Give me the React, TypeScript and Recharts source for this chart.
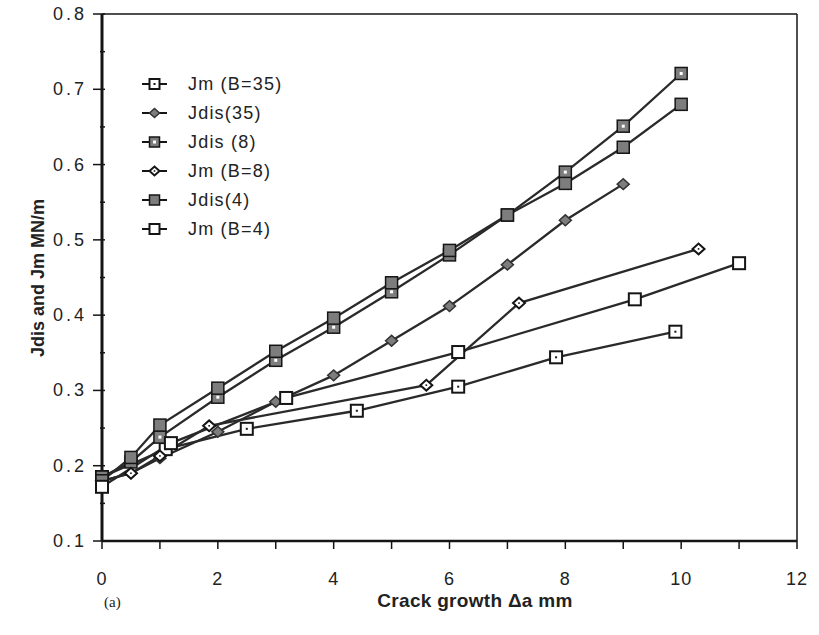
import React from "react";
import { LineChart, Line, XAxis, YAxis, ReferenceLine } from "recharts";

// values (crack growth in mm, J in MN/m)
const jm35X = [0, 1.1, 2.5, 4.4, 6.15, 7.84, 9.9];
const jm35Y = [0.185, 0.222, 0.249, 0.273, 0.305, 0.344, 0.378];

const jdis35X = [0, 0.5, 1, 2, 3, 4, 5, 6, 7, 8, 9];
const jdis35Y = [0.18, 0.19, 0.21, 0.245, 0.285, 0.32, 0.366, 0.412, 0.467, 0.526, 0.574];

const jdis8X = [0, 0.5, 1, 2, 3, 4, 5, 6, 7, 8, 9, 10];
const jdis8Y = [0.185, 0.205, 0.238, 0.291, 0.34, 0.384, 0.431, 0.48, 0.533, 0.59, 0.651, 0.721];

const jm8X = [0, 0.5, 1, 1.85, 5.6, 7.2, 10.3];
const jm8Y = [0.18, 0.19, 0.213, 0.253, 0.307, 0.416, 0.488];

const jdis4X = [0, 0.5, 1, 2, 3, 4, 5, 6, 7, 8, 9, 10];
const jdis4Y = [0.18, 0.211, 0.254, 0.303, 0.352, 0.396, 0.443, 0.486, 0.533, 0.575, 0.623, 0.68];

const jm4X = [0, 1.19, 3.18, 6.15, 9.2, 11.0];
const jm4Y = [0.172, 0.23, 0.29, 0.351, 0.421, 0.469];

const xTicks = [0, 1, 2, 3, 4, 5, 6, 7, 8, 9, 10, 11, 12];
const yTicks = [0.1, 0.15, 0.2, 0.25, 0.3, 0.35, 0.4, 0.45, 0.5, 0.55, 0.6, 0.65, 0.7, 0.75, 0.8];

const zip = (xs: number[], ys: number[]) => xs.map((x, i) => ({ x, y: ys[i] }));

const series = [
  { name: "Jm (B=35)", kind: "sqDot", data: zip(jm35X, jm35Y) },
  { name: "Jdis(35)", kind: "diaGray", data: zip(jdis35X, jdis35Y) },
  { name: "Jdis (8)", kind: "sqGrayDot", data: zip(jdis8X, jdis8Y) },
  { name: "Jm (B=8)", kind: "diaOpen", data: zip(jm8X, jm8Y) },
  { name: "Jdis(4)", kind: "sqGray", data: zip(jdis4X, jdis4Y) },
  { name: "Jm (B=4)", kind: "sqOpen", data: zip(jm4X, jm4Y) },
];

const INK = "#151515";
const GRAY = "#7d7d7d";
const FONT = "'Liberation Sans', Arial, sans-serif";

function Marker({ kind, cx, cy, s }: { kind: string; cx: number; cy: number; s: number }) {
  const h = s / 2;
  const dia = `${cx - h},${cy} ${cx},${cy - h * 0.9} ${cx + h},${cy} ${cx},${cy + h * 0.9}`;
  switch (kind) {
    case "sqDot":
      return (
        <g>
          <rect x={cx - h} y={cy - h} width={s} height={s} fill="#fff" stroke={INK} strokeWidth={2} />
          <rect x={cx - 1} y={cy - 1} width={2} height={2} fill={INK} />
        </g>
      );
    case "diaGray":
      return <polygon points={dia} fill={GRAY} stroke="#333" strokeWidth={1.5} />;
    case "sqGrayDot":
      return (
        <g>
          <rect x={cx - h} y={cy - h} width={s} height={s} fill={GRAY} stroke={INK} strokeWidth={1.5} />
          <rect x={cx - 1.5} y={cy - 1.5} width={3} height={3} fill="#fff" />
        </g>
      );
    case "diaOpen":
      return (
        <g>
          <polygon points={dia} fill="#fff" stroke={INK} strokeWidth={2} />
          <rect x={cx - 0.8} y={cy - 0.8} width={1.6} height={1.6} fill={INK} />
        </g>
      );
    case "sqGray":
      return <rect x={cx - h} y={cy - h} width={s} height={s} fill={GRAY} stroke={INK} strokeWidth={1.5} />;
    default:
      return <rect x={cx - h} y={cy - h} width={s} height={s} fill="#fff" stroke={INK} strokeWidth={2} />;
  }
}

const XTick = (props: any) => {
  const { x, y, payload } = props;
  const major = payload.value % 2 === 0;
  return (
    <g>
      <line x1={x} x2={x} y1={y} y2={y + 8} stroke={INK} strokeWidth={1.5} />
      {major && (
        <text x={x} y={y + 44} textAnchor="middle" fontSize={18} letterSpacing={1} fontFamily={FONT} fill="#222">
          {payload.value}
        </text>
      )}
    </g>
  );
};

const YTick = (props: any) => {
  const { x, y, payload } = props;
  const major = Math.round(payload.value * 100) % 10 === 0;
  return (
    <g>
      <line x1={major ? x - 9 : x - 2} x2={x + 3} y1={y} y2={y} stroke={INK} strokeWidth={1.5} />
      {major && (
        <text x={x - 15} y={y + 6} textAnchor="end" fontSize={18} letterSpacing={3} fontFamily={FONT} fill="#222">
          {payload.value.toFixed(1)}
        </text>
      )}
    </g>
  );
};

export default function App() {
  return (
    <div style={{ position: "absolute", left: 0, top: 0, width: 819, height: 635, background: "#fff" }}>
      <LineChart width={819} height={635} margin={{ top: 14, right: 22, bottom: 0, left: 0 }}>
        <XAxis
          type="number"
          dataKey="x"
          domain={[0, 12]}
          ticks={xTicks}
          height={94}
          tickSize={0}
          tickMargin={0}
          tick={<XTick />}
          axisLine={{ stroke: INK, strokeWidth: 2.5 }}
          allowDuplicatedCategory={false}
        />
        <YAxis
          type="number"
          dataKey="y"
          domain={[0.1, 0.8]}
          ticks={yTicks}
          width={102}
          tickSize={0}
          tickMargin={0}
          tick={<YTick />}
          axisLine={{ stroke: INK, strokeWidth: 3 }}
        />
        <ReferenceLine y={0.8} stroke={INK} strokeWidth={1.5} />
        <ReferenceLine x={12} stroke={INK} strokeWidth={1.5} />
        {series.map((s) => (
          <Line
            key={s.name}
            data={s.data}
            dataKey="y"
            type="linear"
            stroke="#2a2a2a"
            strokeWidth={2.3}
            isAnimationActive={false}
            dot={(p: any) => <Marker key={p.index} kind={s.kind} cx={p.cx} cy={p.cy} s={12} />}
          />
        ))}
      </LineChart>
      <svg width={819} height={635} style={{ position: "absolute", left: 0, top: 0, pointerEvents: "none" }}>
        {series.map((s, i) => {
          const cy = 84 + i * 29;
          return (
            <g key={s.name}>
              <line x1={142} x2={167} y1={cy} y2={cy} stroke={INK} strokeWidth={2} />
              <Marker kind={s.kind} cx={154.5} cy={cy} s={10} />
              <text x={188} y={cy + 6} fontSize={18} letterSpacing={1.2} fontFamily={FONT} fill="#222">
                {s.name}
              </text>
            </g>
          );
        })}
        <text
          x={38}
          y={278}
          transform="rotate(-90 38 278)"
          textAnchor="middle"
          dominantBaseline="central"
          fontSize={18}
          fontWeight="bold"
          fontFamily={FONT}
          fill="#222"
        >
          Jdis and Jm MN/m
        </text>
        <text x={475} y={607} textAnchor="middle" fontSize={19} letterSpacing={0.3} fontWeight="bold" fontFamily={FONT} fill="#222">
          Crack growth Δa mm
        </text>
        <text x={104} y={607} fontSize={15} fontFamily="'Liberation Serif', serif" fill="#222">
          (a)
        </text>
      </svg>
    </div>
  );
}
